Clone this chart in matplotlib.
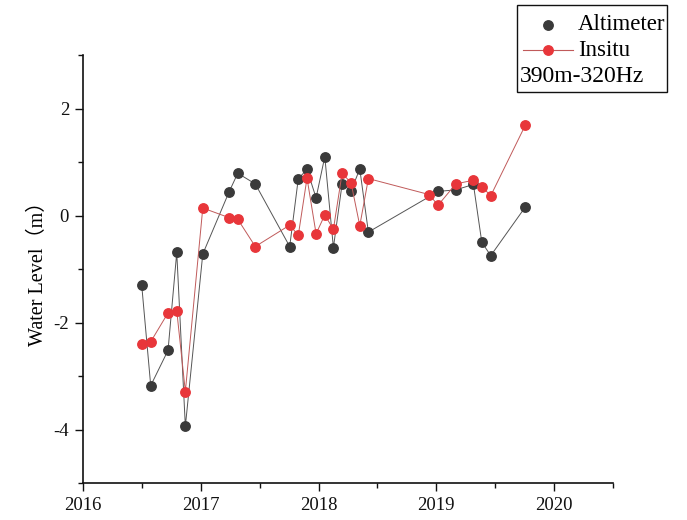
import matplotlib
matplotlib.use("Agg")
import matplotlib.pyplot as plt
from matplotlib.lines import Line2D
from matplotlib.patches import Rectangle
from matplotlib.ticker import MultipleLocator

# Decimal-year dates and water levels (m)
alt_time = [2016.498, 2016.575, 2016.722, 2016.796, 2016.869, 2017.017, 2017.240,
            2017.314, 2017.463, 2017.755, 2017.828, 2017.902, 2017.979, 2018.053,
            2018.126, 2018.200, 2018.276, 2018.350, 2018.423, 2019.017, 2019.165,
            2019.315, 2019.386, 2019.462, 2019.756]
alt_level = [-1.29, -3.18, -2.52, -0.69, -3.94, -0.72, 0.44,
             0.79, 0.59, -0.58, 0.69, 0.86, 0.33, 1.10,
             -0.60, 0.59, 0.46, 0.87, -0.31, 0.45, 0.48,
             0.58, -0.50, -0.75, 0.16]

insitu_time = [2016.498, 2016.575, 2016.722, 2016.796, 2016.869, 2017.017, 2017.240,
               2017.314, 2017.463, 2017.755, 2017.828, 2017.902, 2017.979, 2018.053,
               2018.126, 2018.200, 2018.276, 2018.350, 2018.423, 2018.941, 2019.014,
               2019.165, 2019.315, 2019.386, 2019.462, 2019.756]
insitu_level = [-2.41, -2.36, -1.82, -1.78, -3.29, 0.14, -0.04,
                -0.07, -0.58, -0.18, -0.37, 0.70, -0.34, 0.01,
                -0.26, 0.79, 0.61, -0.19, 0.69, 0.39, 0.19,
                0.59, 0.66, 0.54, 0.37, 1.69]

x_ticks = [2016, 2017, 2018, 2019, 2020]
y_ticks = [-4, -2, 0, 2]

serif = ["Liberation Serif", "Noto Sans CJK SC", "DejaVu Sans"]
plt.rcParams["font.family"] = serif

dark = "#3a3a3a"
red = "#e8363a"

fig = plt.figure(figsize=(6.87, 5.2), dpi=100)
ax = fig.add_axes([83 / 687, 1 - 483 / 520, (613 - 83) / 687, (483 - 55) / 520])

ax.plot(alt_time, alt_level, color="#555555", lw=0.7, zorder=2)
ax.plot(alt_time, alt_level, ls="none", marker="o", ms=6.8, mfc=dark, mec=dark, zorder=3)
ax.plot(insitu_time, insitu_level, color="#c05a5a", lw=0.7, zorder=4)
ax.plot(insitu_time, insitu_level, ls="none", marker="o", ms=6.8, mfc=red, mec=red, zorder=5)

ax.set_xlim(2016, 2020.5)
ax.set_ylim(-5, 3)
ax.set_xticks(x_ticks)
ax.set_xticklabels([str(t) for t in x_ticks])
ax.set_yticks(y_ticks)
ax.set_yticklabels([str(t) for t in y_ticks])
ax.xaxis.set_minor_locator(MultipleLocator(0.5))
ax.yaxis.set_minor_locator(MultipleLocator(1))

for s in ("top", "right"):
    ax.spines[s].set_visible(False)
for s in ("left", "bottom"):
    ax.spines[s].set_linewidth(1.2)
    ax.spines[s].set_color("#111111")

ax.tick_params(which="major", direction="out", length=6, width=1.0, labelsize=13.5,
               colors="#111111", pad=4)
ax.tick_params(which="minor", direction="out", length=3.5, width=1.0, colors="#111111")

ax.set_ylabel("Water Level（m）", fontsize=14.5, labelpad=4)

# Legend block
fig_h = 520
def fy(py):
    return 1 - py / fig_h

frame = Rectangle((517 / 687, fy(92)), (667 - 517) / 687, (92 - 5) / fig_h,
                  transform=fig.transFigure, fill=False, ec="#111111", lw=1.0)
fig.add_artist(frame)

fig.add_artist(Line2D([548 / 687], [fy(25)], transform=fig.transFigure,
                      ls="none", marker="o", ms=6.8, mfc=dark, mec=dark))
fig.add_artist(Line2D([523 / 687, 573 / 687], [fy(50), fy(50)], transform=fig.transFigure,
                      color="#c05a5a", lw=0.8))
fig.add_artist(Line2D([548 / 687], [fy(50)], transform=fig.transFigure,
                      ls="none", marker="o", ms=6.8, mfc=red, mec=red))

fig.text(578 / 687, fy(25), "Altimeter", fontsize=16.5, va="center", ha="left")
fig.text(578 / 687, fy(50), "Insitu", fontsize=16.5, va="center", ha="left")
fig.text(520 / 687, fy(77), "390m-320Hz", fontsize=17, va="center", ha="left")

fig.savefig("out.png", dpi=100)
